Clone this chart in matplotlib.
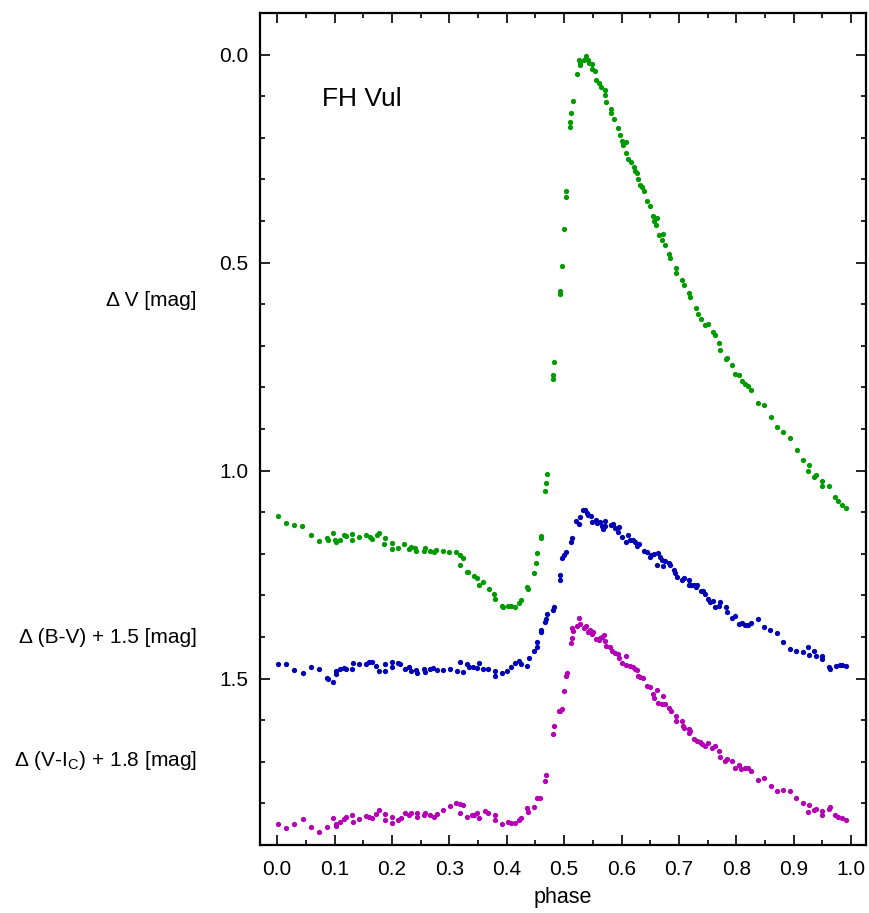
import numpy as np
import matplotlib
matplotlib.use('Agg')
import matplotlib.pyplot as plt
from matplotlib.ticker import MultipleLocator
from matplotlib.transforms import blended_transform_factory

plt.rcParams['font.family'] = ['Liberation Sans', 'DejaVu Sans']
plt.rcParams['mathtext.fontset'] = 'custom'
plt.rcParams['mathtext.rm'] = 'Liberation Sans'

# delta V
v_phase = [0.002, 0.016, 0.030, 0.044, 0.059, 0.073, 0.086, 0.088, 0.098, 0.101, 0.103, 0.109,
           0.116, 0.120, 0.130, 0.131, 0.143, 0.155, 0.161, 0.165, 0.174, 0.177, 0.186, 0.188,
           0.200, 0.200, 0.211, 0.221, 0.229, 0.233, 0.240, 0.242, 0.256, 0.257, 0.266, 0.273,
           0.276, 0.289, 0.300, 0.312, 0.319, 0.323, 0.319, 0.330, 0.333, 0.343, 0.348, 0.352,
           0.359, 0.369, 0.378, 0.379, 0.391, 0.393, 0.403, 0.407, 0.414, 0.422, 0.425, 0.436,
           0.437, 0.447, 0.451, 0.453, 0.459, 0.460,
           0.467, 0.468, 0.470, 0.480, 0.481, 0.483, 0.492, 0.492, 0.497, 0.499, 0.503, 0.504,
           0.511, 0.511, 0.512, 0.515, 0.522, 0.526, 0.527, 0.528, 0.534, 0.538, 0.541, 0.543,
           0.548, 0.548, 0.553, 0.556, 0.560, 0.564, 0.571, 0.571, 0.573, 0.581, 0.582, 0.586,
           0.593, 0.597, 0.601, 0.603, 0.607, 0.608, 0.612, 0.617, 0.621, 0.624, 0.627, 0.628,
           0.632, 0.636, 0.639, 0.644, 0.650, 0.655, 0.661, 0.657, 0.660, 0.666, 0.672, 0.670,
           0.675, 0.682, 0.685, 0.695, 0.695, 0.705, 0.708, 0.717, 0.720, 0.729, 0.734, 0.739,
           0.746, 0.751, 0.759, 0.762, 0.770, 0.771, 0.782, 0.784, 0.793, 0.797, 0.804, 0.810,
           0.816, 0.821, 0.826, 0.837, 0.849, 0.860, 0.871, 0.882, 0.894, 0.905, 0.916, 0.927,
           0.925, 0.936, 0.939, 0.949, 0.950, 0.962, 0.972, 0.977, 0.984, 0.991]
v_mag = [1.108, 1.127, 1.131, 1.132, 1.156, 1.170, 1.163, 1.166, 1.149, 1.168, 1.172, 1.166,
         1.156, 1.157, 1.152, 1.167, 1.160, 1.155, 1.160, 1.164, 1.156, 1.150, 1.176, 1.162,
         1.173, 1.188, 1.186, 1.176, 1.188, 1.183, 1.187, 1.193, 1.194, 1.187, 1.193, 1.196,
         1.191, 1.193, 1.195, 1.196, 1.204, 1.210, 1.226, 1.243, 1.243, 1.254, 1.258, 1.276,
         1.268, 1.284, 1.296, 1.309, 1.325, 1.328, 1.326, 1.326, 1.328, 1.319, 1.311, 1.279,
         1.284, 1.247, 1.221, 1.197, 1.163, 1.158,
         1.050, 1.030, 1.008, 0.780, 0.770, 0.740, 0.575, 0.569, 0.507, 0.420, 0.342, 0.329,
         0.173, 0.161, 0.140, 0.111, 0.047, 0.013, 0.024, 0.019, 0.014, 0.004, 0.013, 0.021,
         0.022, 0.035, 0.040, 0.061, 0.069, 0.077, 0.085, 0.096, 0.113, 0.131, 0.141, 0.156,
         0.176, 0.193, 0.207, 0.218, 0.211, 0.236, 0.251, 0.257, 0.269, 0.280, 0.285, 0.300,
         0.313, 0.319, 0.329, 0.353, 0.365, 0.388, 0.392, 0.401, 0.410, 0.433, 0.431, 0.445,
         0.457, 0.479, 0.489, 0.514, 0.526, 0.542, 0.554, 0.572, 0.582, 0.610, 0.623, 0.635,
         0.650, 0.647, 0.667, 0.674, 0.694, 0.709, 0.732, 0.729, 0.747, 0.768, 0.769, 0.785,
         0.792, 0.797, 0.807, 0.837, 0.843, 0.871, 0.896, 0.908, 0.922, 0.950, 0.974, 0.987,
         1.000, 1.015, 1.011, 1.026, 1.037, 1.036, 1.064, 1.074, 1.083, 1.090]

# delta (B-V) + 1.5
bv_phase = [0.002, 0.016, 0.030, 0.045, 0.059, 0.073, 0.087, 0.088, 0.098, 0.102, 0.103, 0.110,
            0.116, 0.120, 0.130, 0.132, 0.143, 0.155, 0.160, 0.165, 0.172, 0.177, 0.187, 0.188,
            0.200, 0.200, 0.210, 0.214, 0.222, 0.229, 0.233, 0.241, 0.243, 0.256, 0.258, 0.267,
            0.272, 0.278, 0.289, 0.301, 0.313, 0.319, 0.323, 0.330, 0.334, 0.342, 0.348, 0.352,
            0.359, 0.368, 0.379, 0.379, 0.391, 0.401, 0.408, 0.414, 0.422, 0.425, 0.436, 0.438,
            0.447, 0.452, 0.452, 0.459, 0.459, 0.467, 0.468, 0.470, 0.480, 0.482, 0.492, 0.492,
            0.497, 0.500, 0.503, 0.512, 0.513, 0.521, 0.526, 0.527, 0.533, 0.537, 0.540, 0.542,
            0.547, 0.549, 0.555, 0.558, 0.563, 0.566, 0.567, 0.572, 0.571, 0.581, 0.585, 0.588,
            0.593, 0.595, 0.600, 0.608, 0.612, 0.615, 0.620, 0.624, 0.627, 0.631, 0.639, 0.644,
            0.650, 0.652, 0.657, 0.664, 0.661, 0.667, 0.670, 0.676, 0.683, 0.672, 0.685, 0.692,
            0.694, 0.696, 0.706, 0.708, 0.717, 0.718, 0.721, 0.726, 0.730, 0.732, 0.739, 0.742,
            0.746, 0.750, 0.754, 0.759, 0.762, 0.771, 0.770, 0.782, 0.784, 0.793, 0.797, 0.804,
            0.810, 0.815, 0.821, 0.826, 0.837, 0.848, 0.859, 0.871, 0.882, 0.894, 0.904, 0.916,
            0.925, 0.927, 0.936, 0.938, 0.949, 0.950, 0.961, 0.963, 0.973, 0.980, 0.984, 0.991]
bv_mag = [1.464, 1.464, 1.479, 1.487, 1.472, 1.478, 1.498, 1.502, 1.508, 1.489, 1.481, 1.478,
          1.475, 1.476, 1.476, 1.463, 1.465, 1.465, 1.460, 1.459, 1.470, 1.482, 1.466, 1.481,
          1.460, 1.473, 1.463, 1.466, 1.478, 1.473, 1.481, 1.479, 1.486, 1.478, 1.484, 1.478,
          1.475, 1.479, 1.480, 1.477, 1.481, 1.460, 1.483, 1.464, 1.472, 1.472, 1.475, 1.462,
          1.478, 1.478, 1.482, 1.493, 1.486, 1.481, 1.472, 1.463, 1.458, 1.465, 1.470, 1.451,
          1.433, 1.423, 1.411, 1.388, 1.383, 1.363, 1.357, 1.345, 1.335, 1.328, 1.263, 1.252,
          1.210, 1.203, 1.196, 1.172, 1.163, 1.122, 1.128, 1.111, 1.095, 1.094, 1.101, 1.107,
          1.109, 1.123, 1.119, 1.127, 1.123, 1.132, 1.141, 1.120, 1.134, 1.131, 1.128, 1.139,
          1.148, 1.136, 1.159, 1.171, 1.155, 1.166, 1.167, 1.171, 1.181, 1.176, 1.194, 1.196,
          1.207, 1.203, 1.200, 1.199, 1.226, 1.208, 1.216, 1.218, 1.223, 1.229, 1.228, 1.238,
          1.247, 1.255, 1.262, 1.258, 1.263, 1.275, 1.274, 1.275, 1.279, 1.276, 1.289, 1.290,
          1.296, 1.308, 1.316, 1.314, 1.328, 1.316, 1.326, 1.328, 1.340, 1.354, 1.350, 1.369,
          1.367, 1.372, 1.372, 1.367, 1.356, 1.376, 1.382, 1.390, 1.411, 1.429, 1.433, 1.435,
          1.425, 1.444, 1.434, 1.445, 1.446, 1.453, 1.471, 1.478, 1.469, 1.468, 1.468, 1.469]

# delta (V-Ic) + 1.8
vi_phase = [0.002, 0.016, 0.030, 0.045, 0.059, 0.073, 0.087, 0.098, 0.102, 0.102, 0.110, 0.117,
            0.120, 0.130, 0.132, 0.143, 0.155, 0.160, 0.165, 0.172, 0.177, 0.187, 0.187, 0.200,
            0.200, 0.211, 0.215, 0.222, 0.229, 0.233, 0.243, 0.244, 0.256, 0.258, 0.267, 0.274,
            0.278, 0.289, 0.301, 0.312, 0.319, 0.323, 0.319, 0.331, 0.339, 0.343, 0.348, 0.352,
            0.362, 0.368, 0.379, 0.379, 0.391, 0.402, 0.407, 0.414, 0.422, 0.425, 0.436, 0.437,
            0.447, 0.452, 0.458, 0.467, 0.469, 0.481, 0.483, 0.491, 0.493, 0.497, 0.500, 0.503,
            0.505, 0.512, 0.513, 0.515, 0.514, 0.522, 0.526, 0.527, 0.534, 0.538, 0.541, 0.545,
            0.548, 0.551, 0.556, 0.560, 0.563, 0.566, 0.570, 0.571, 0.573, 0.580, 0.583, 0.588,
            0.593, 0.595, 0.601, 0.607, 0.608, 0.614, 0.620, 0.624, 0.627, 0.629, 0.632, 0.638,
            0.644, 0.650, 0.654, 0.657, 0.661, 0.664, 0.670, 0.673, 0.675, 0.683, 0.686, 0.695,
            0.695, 0.705, 0.707, 0.708, 0.717, 0.718, 0.720, 0.726, 0.731, 0.737, 0.740, 0.746,
            0.750, 0.758, 0.762, 0.770, 0.771, 0.780, 0.783, 0.792, 0.797, 0.804, 0.809, 0.815,
            0.820, 0.826, 0.837, 0.848, 0.860, 0.871, 0.882, 0.894, 0.904, 0.916, 0.925, 0.927,
            0.936, 0.938, 0.949, 0.950, 0.961, 0.963, 0.972, 0.978, 0.984, 0.991]
vi_mag = [1.849, 1.859, 1.849, 1.837, 1.857, 1.868, 1.857, 1.835, 1.849, 1.855, 1.845, 1.838,
          1.833, 1.829, 1.844, 1.837, 1.830, 1.833, 1.836, 1.825, 1.817, 1.825, 1.840, 1.833,
          1.846, 1.839, 1.836, 1.822, 1.829, 1.822, 1.823, 1.832, 1.829, 1.823, 1.829, 1.832,
          1.825, 1.816, 1.806, 1.800, 1.802, 1.805, 1.824, 1.832, 1.829, 1.829, 1.824, 1.836,
          1.819, 1.824, 1.827, 1.840, 1.849, 1.845, 1.846, 1.846, 1.841, 1.834, 1.811, 1.821,
          1.809, 1.788, 1.788, 1.745, 1.732, 1.633, 1.615, 1.579, 1.579, 1.573, 1.530, 1.493,
          1.486, 1.415, 1.403, 1.385, 1.379, 1.373, 1.354, 1.369, 1.378, 1.373, 1.389, 1.382,
          1.393, 1.387, 1.405, 1.407, 1.402, 1.399, 1.396, 1.409, 1.421, 1.425, 1.433, 1.439,
          1.441, 1.450, 1.463, 1.446, 1.467, 1.470, 1.473, 1.477, 1.479, 1.493, 1.497, 1.499,
          1.517, 1.519, 1.537, 1.546, 1.527, 1.558, 1.560, 1.541, 1.561, 1.570, 1.578, 1.589,
          1.603, 1.603, 1.613, 1.619, 1.621, 1.630, 1.627, 1.644, 1.649, 1.652, 1.657, 1.663,
          1.654, 1.668, 1.662, 1.674, 1.688, 1.699, 1.693, 1.699, 1.715, 1.707, 1.717, 1.715,
          1.715, 1.721, 1.743, 1.740, 1.757, 1.770, 1.768, 1.771, 1.788, 1.800, 1.820, 1.803,
          1.817, 1.813, 1.819, 1.827, 1.813, 1.809, 1.827, 1.832, 1.836, 1.839]

fig = plt.figure(figsize=(8.69, 9.13), dpi=100)
ax = fig.add_axes([260/869, 68/913, 606/869, 832/913])

ax.plot(v_phase, v_mag, 'o', ms=3.8, mew=0, color='#009a00')
ax.plot(bv_phase, bv_mag, 'o', ms=3.8, mew=0, color='#0000b4')
ax.plot(vi_phase, vi_mag, 'o', ms=3.8, mew=0, color='#b400b4')

ax.set_xlim(-0.03, 1.026)
ax.set_ylim(1.9, -0.1)

ax.xaxis.set_major_locator(MultipleLocator(0.1))
ax.xaxis.set_minor_locator(MultipleLocator(0.05))
ax.yaxis.set_major_locator(MultipleLocator(0.5))
ax.yaxis.set_minor_locator(MultipleLocator(0.1))
ax.tick_params(which='both', direction='in', top=True, right=True, width=1.2, labelsize=15)
ax.tick_params(which='major', length=7)
ax.tick_params(which='minor', length=3.5)
ax.tick_params(axis='x', which='major', pad=10.5)
ax.tick_params(axis='y', which='major', pad=8.5)
for s in ax.spines.values():
    s.set_linewidth(1.6)

ax.set_xlabel('phase', fontsize=15.5, labelpad=6)

tr = blended_transform_factory(ax.transAxes, ax.transData)
ax.text(0.102, 0.106, 'FH Vul', fontsize=19, va='center', transform=tr)
ax.text(-0.104, 0.591, '\u0394 V [mag]', fontsize=15, ha='right', va='center', transform=tr)
ax.text(-0.104, 1.401, '\u0394 (B-V) + 1.5 [mag]', fontsize=15, ha='right', va='center', transform=tr)
ax.text(-0.104, 1.697, '\u0394 (V-I$_\\mathrm{C}$) + 1.8 [mag]', fontsize=15, ha='right', va='center', transform=tr)

fig.savefig('out.png', dpi=100)
